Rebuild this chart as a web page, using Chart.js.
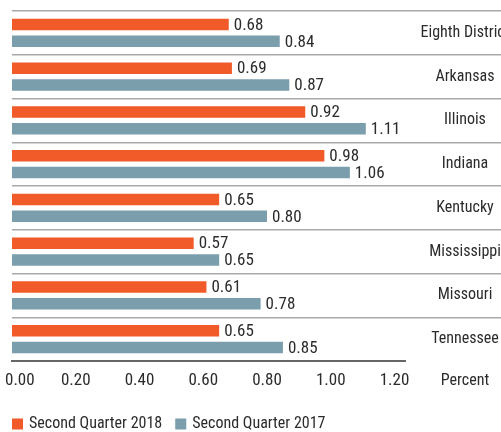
<!DOCTYPE html>
<html>
<head>
<meta charset="utf-8">
<script src="https://cdn.jsdelivr.net/npm/chart.js@4/dist/chart.umd.min.js"></script>
<style>
  html, body { margin: 0; padding: 0; background: #fff; }
  #wrap { width: 501px; height: 432px; }
</style>
</head>
<body>
<div id="wrap"><canvas id="chart"></canvas></div>
<script>
// Delinquency by state, second quarter
const states = ['Eighth District', 'Arkansas', 'Illinois', 'Indiana', 'Kentucky', 'Mississippi', 'Missouri', 'Tennessee'];
const q2_2018 = [0.68, 0.69, 0.92, 0.98, 0.65, 0.57, 0.61, 0.65];
const q2_2017 = [0.84, 0.87, 1.11, 1.06, 0.80, 0.65, 0.78, 0.85];
const seriesNames = ['Second Quarter 2018', 'Second Quarter 2017'];
const xTickValues = [0, 0.2, 0.4, 0.6, 0.8, 1.0, 1.2];
const xUnit = 'Percent';

const ORANGE = '#f15a29';
const SLATE = '#7a9eac';
const TEXT = '#2b2b2b';
const GRID = '#a9a9a9';
const FONT = "'Roboto Condensed', 'Liberation Sans', sans-serif";
const LABEL_FONT = '16px ' + FONT;
const NUM_FONT = '17px ' + FONT;

// right-hand label column: 96px wide, labels centred 60px in
const LABEL_COL = 96;
const LABEL_CENTRE = 60;
const measure = document.createElement('canvas').getContext('2d');
measure.font = LABEL_FONT;
const widest = Math.max(...states.map(s => measure.measureText(s).width));

// value labels, x tick labels, unit label and the legend
const extras = {
    id: 'extras',
    afterDatasetsDraw(chart) {
        const ctx = chart.ctx;
        ctx.save();
        ctx.fillStyle = TEXT;
        ctx.font = NUM_FONT;
        ctx.textBaseline = 'middle';
        ctx.textAlign = 'left';
        chart.data.datasets.forEach((ds, di) => {
            chart.getDatasetMeta(di).data.forEach((bar, i) => {
                ctx.fillText(ds.data[i].toFixed(2), bar.x + 5, bar.y + 1);
            });
        });
        ctx.restore();
    },
    afterDraw(chart) {
        const ctx = chart.ctx;
        const x = chart.scales.x;
        const tickY = chart.chartArea.bottom + 20;
        ctx.save();
        ctx.fillStyle = TEXT;
        ctx.textBaseline = 'middle';
        ctx.textAlign = 'center';
        ctx.font = NUM_FONT;
        xTickValues.forEach(v => {
            const label = v.toFixed(2);
            const w = ctx.measureText(label).width;
            let px = x.getPixelForValue(v);
            if (px - w / 2 < 5) px = 5 + w / 2;
            ctx.fillText(label, px, tickY);
        });
        ctx.font = LABEL_FONT;
        ctx.fillText(xUnit, chart.chartArea.right + LABEL_CENTRE, tickY);

        // legend
        let lx = 12;
        const ly = 424;
        ctx.textAlign = 'left';
        chart.data.datasets.forEach(ds => {
            ctx.fillStyle = ds.backgroundColor;
            ctx.fillRect(lx, ly - 5.5, 11, 11);
            ctx.fillStyle = TEXT;
            ctx.fillText(ds.label, lx + 17, ly);
            lx += 17 + ctx.measureText(ds.label).width + 13;
        });
        ctx.restore();
    }
};

new Chart(document.getElementById('chart'), {
    type: 'bar',
    data: {
        labels: states,
        datasets: [
            { label: seriesNames[0], data: q2_2018, backgroundColor: ORANGE },
            { label: seriesNames[1], data: q2_2017, backgroundColor: SLATE }
        ]
    },
    options: {
        indexAxis: 'y',
        responsive: true,
        maintainAspectRatio: false,
        animation: false,
        layout: { padding: { top: 11, left: 12, right: 0, bottom: 0 } },
        datasets: {
            bar: { categoryPercentage: 0.77, barPercentage: 0.69 }
        },
        scales: {
            x: {
                type: 'linear',
                min: 0,
                max: 1.233,
                grid: { display: false },
                ticks: { display: false },
                border: { display: true, color: '#666', width: 2 },
                afterFit(s) {
                    s.height = 71;
                    s.paddingLeft = 0;
                    s.paddingRight = 0;
                }
            },
            y: {
                position: 'right',
                border: { display: false },
                grid: {
                    offset: true,
                    lineWidth: 1.5,
                    // tick marks carry the row separators across the label column
                    tickLength: LABEL_COL,
                    color: c => c.type === 'tick' ? GRID : 'rgba(0,0,0,0)',
                    tickColor: c => c.type === 'tick' ? GRID : 'rgba(0,0,0,0)'
                },
                ticks: {
                    crossAlign: 'center',
                    padding: LABEL_CENTRE - LABEL_COL - widest / 2,
                    color: TEXT,
                    font: { family: FONT, size: 16 }
                },
                afterFit(s) {
                    s.width = LABEL_COL;
                    s.paddingTop = 0;
                    s.paddingBottom = 0;
                }
            }
        },
        plugins: {
            legend: { display: false },
            tooltip: { enabled: false }
        }
    },
    plugins: [extras]
});
</script>
</body>
</html>
